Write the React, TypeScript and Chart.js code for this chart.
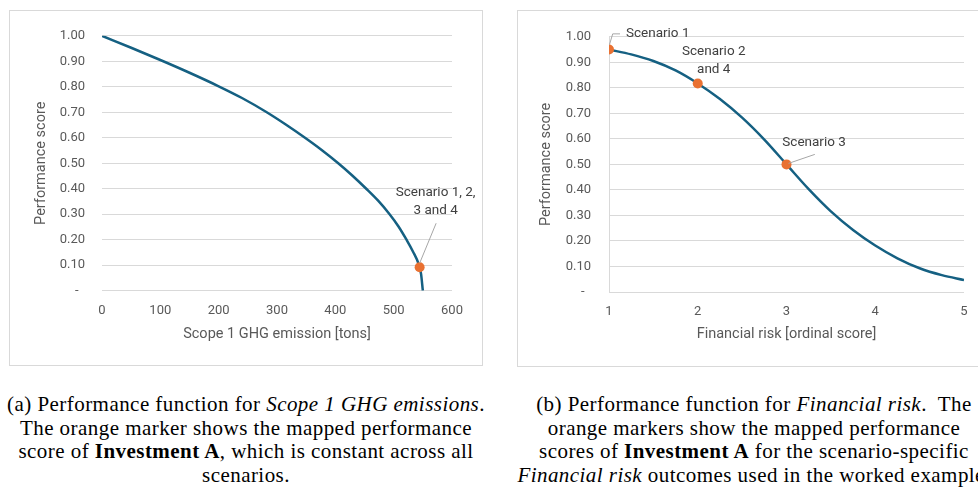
import React, { useEffect, useRef } from 'react';
import { Chart, registerables } from 'chart.js';

Chart.register(...registerables);

// ---- Data: panel (a) Scope 1 GHG emissions ----
const ghgX = [0, 50, 100, 150, 200, 240, 281, 315, 348, 376, 405, 429, 453, 473, 493, 508, 522, 533, 543.5, 547, 550];
const ghgY = [1.0, 0.953, 0.905, 0.855, 0.802, 0.756, 0.702, 0.652, 0.6, 0.553, 0.5, 0.452, 0.4, 0.354, 0.3, 0.253, 0.2, 0.154, 0.1, 0.065, 0.0];
const ghgMarkerX = [544.5];
const ghgMarkerY = [0.092];
const ghgMarkerLabels = [['Scenario 1, 2,', '3 and 4']];
const ghgXTicks = { min: 0, max: 600, step: 100 };

// ---- Data: panel (b) Financial risk ----
const riskX = [1, 1.25, 1.5, 1.75, 2, 2.25, 2.5, 2.75, 3, 3.25, 3.5, 3.75, 4, 4.25, 4.5, 4.75, 5];
const riskY = [0.95, 0.931, 0.905, 0.868, 0.817, 0.756, 0.683, 0.597, 0.5, 0.403, 0.316, 0.243, 0.182, 0.132, 0.093, 0.066, 0.047];
const riskMarkerX = [1, 2, 3];
const riskMarkerY = [0.95, 0.817, 0.5];
const riskMarkerLabels = [['Scenario 1'], ['Scenario 2', 'and 4'], ['Scenario 3']];
const riskXTicks = { min: 1, max: 5, step: 1 };

const yTicks = { min: 0, max: 1, step: 0.1 };

const LINE_COLOR = '#156082';
const MARKER_COLOR = '#E97132';
const GRID = '#d9d9d9';
const TICK_COLOR = '#595959';
const FONT = 'Roboto, "Noto Sans", sans-serif';

type LabelStyle = { dx: number; dy: number; leader?: number[][] };

type PanelProps = {
  width: number;
  height: number;
  xs: number[];
  ys: number[];
  mx: number[];
  my: number[];
  labels: string[][];
  labelStyles: LabelStyle[];
  xTicks: { min: number; max: number; step: number };
  xTitle: string;
  yAxisWidth: number;
  yTickPad: number;
  yTitlePad: number;
  padRight: number;
  padTop: number;
  xAxisHeight: number;
  xTitlePad: number;
  showYBorder: boolean;
};

function Panel(p: PanelProps) {
  const ref = useRef<HTMLCanvasElement | null>(null);
  useEffect(() => {
    if (!ref.current) return;
    const annot = {
      id: 'annot',
      afterDatasetsDraw(chart: any) {
        const ctx = chart.ctx;
        const xs = chart.scales.x;
        const ys = chart.scales.y;
        ctx.save();
        p.labels.forEach((lines, i) => {
          const px = xs.getPixelForValue(p.mx[i]);
          const py = ys.getPixelForValue(p.my[i]);
          const st = p.labelStyles[i];
          if (st.leader) {
            ctx.strokeStyle = '#a6a6a6';
            ctx.lineWidth = 1;
            ctx.beginPath();
            st.leader.forEach((pt, k) => {
              if (k === 0) ctx.moveTo(px + pt[0], py + pt[1]);
              else ctx.lineTo(px + pt[0], py + pt[1]);
            });
            ctx.stroke();
          }
          ctx.fillStyle = '#404040';
          ctx.font = `13.5px ${FONT}`;
          ctx.textAlign = 'center';
          ctx.textBaseline = 'middle';
          lines.forEach((t, k) => {
            ctx.fillText(t, px + st.dx, py + st.dy + k * 18);
          });
        });
        ctx.restore();
      },
    };
    const chart = new Chart(ref.current, {
      type: 'scatter',
      data: {
        datasets: [
          {
            data: p.mx.map((x, i) => ({ x, y: p.my[i] })),
            pointRadius: 5,
            pointBackgroundColor: MARKER_COLOR,
            pointBorderColor: MARKER_COLOR,
            pointBorderWidth: 0,
            showLine: false,
          },
          {
            data: p.xs.map((x, i) => ({ x, y: p.ys[i] })),
            showLine: true,
            pointRadius: 0,
            borderColor: LINE_COLOR,
            borderWidth: 2.5,
            cubicInterpolationMode: 'monotone',
            fill: false,
          },
        ],
      } as any,
      options: {
        animation: false,
        responsive: false,
        events: [],
        layout: { padding: { left: 0, top: p.padTop, right: p.padRight, bottom: 0 } },
        plugins: { legend: { display: false }, tooltip: { enabled: false }, title: { display: false } },
        scales: {
          x: {
            type: 'linear',
            min: p.xTicks.min,
            max: p.xTicks.max,
            afterFit: (s: any) => { s.height = p.xAxisHeight; },
            grid: { display: false, drawTicks: false },
            border: { display: false },
            ticks: {
              stepSize: p.xTicks.step,
              color: TICK_COLOR,
              font: { family: FONT, size: 13 },
              padding: 12,
              maxRotation: 0,
            },
            title: {
              display: true,
              text: p.xTitle,
              color: TICK_COLOR,
              font: { family: FONT, size: 14.5 },
              padding: { top: 0, bottom: p.xTitlePad },
            },
          },
          y: {
            type: 'linear',
            min: yTicks.min,
            max: yTicks.max,
            afterFit: (s: any) => { s.width = p.yAxisWidth; },
            grid: { color: GRID, lineWidth: 1, drawTicks: false },
            border: { display: p.showYBorder, color: GRID, width: 1 },
            ticks: {
              stepSize: yTicks.step,
              color: TICK_COLOR,
              font: { family: FONT, size: 13 },
              padding: p.yTickPad,
              callback: (v: any) => (Math.abs(Number(v)) < 1e-9 ? '-  ' : Number(v).toFixed(2)),
            },
            title: {
              display: true,
              text: 'Performance score',
              color: TICK_COLOR,
              font: { family: FONT, size: 14.5 },
              padding: { top: p.yTitlePad, bottom: 0 },
            },
          },
        },
      } as any,
      plugins: [annot],
    });
    return () => chart.destroy();
  }, []);
  return <canvas ref={ref} width={p.width} height={p.height} style={{ display: 'block', width: p.width, height: p.height }} />;
}

const capStyle: React.CSSProperties = {
  position: 'absolute',
  top: 393,
  textAlign: 'center',
  fontFamily: '"Liberation Serif", "Times New Roman", serif',
  fontSize: 21,
  lineHeight: '23.7px',
  letterSpacing: '0.45px',
  color: '#000',
  whiteSpace: 'nowrap',
};

export default function App() {
  return (
    <div style={{ position: 'absolute', left: 0, top: 0, width: 978, height: 489, overflow: 'hidden', background: '#fff' }}>
      <div style={{ position: 'absolute', left: 9, top: 10, width: 472, height: 354, border: `1px solid ${GRID}` }}>
        <Panel
          width={472}
          height={354}
          xs={ghgX}
          ys={ghgY}
          mx={ghgMarkerX}
          my={ghgMarkerY}
          labels={ghgMarkerLabels}
          labelStyles={[{ dx: 16, dy: -75, leader: [[0, -4], [16.5, -44]] }]}
          xTicks={ghgXTicks}
          xTitle="Scope 1 GHG emission [tons]"
          yAxisWidth={92}
          yTickPad={17}
          yTitlePad={22.3}
          padRight={30}
          padTop={17}
          xAxisHeight={74.3}
          xTitlePad={22.3}
          showYBorder={false}
        />
      </div>
      <div style={{ position: 'absolute', left: 517, top: 10, width: 473, height: 355, border: `1px solid ${GRID}` }}>
        <Panel
          width={473}
          height={355}
          xs={riskX}
          ys={riskY}
          mx={riskMarkerX}
          my={riskMarkerY}
          labels={riskMarkerLabels}
          labelStyles={[
            { dx: 48.7, dy: -15.7, leader: [[0.5, -5], [3.7, -15.7], [11, -15.7]] },
            { dx: 16, dy: -31.6 },
            { dx: 27.6, dy: -21.7, leader: [[2, -1], [28.3, -10]] },
          ]}
          xTicks={riskXTicks}
          xTitle="Financial risk [ordinal score]"
          yAxisWidth={91}
          yTickPad={18}
          yTitlePad={20}
          padRight={27}
          padTop={17}
          xAxisHeight={74}
          xTitlePad={23.3}
          showYBorder={true}
        />
      </div>
      <div style={{ ...capStyle, left: 0, width: 492 }}>
        (a) Performance function for <i>Scope 1 GHG emissions</i>.<br />
        The orange marker shows the mapped performance<br />
        score of <b>Investment A</b>, which is constant across all<br />
        scenarios.
      </div>
      <div style={{ ...capStyle, left: 514, width: 480 }}>
        (b) Performance function for <i>Financial risk</i>.&nbsp; The<br />
        orange markers show the mapped performance<br />
        scores of <b>Investment A</b> for the scenario-specific<br />
        <i>Financial risk</i> outcomes used in the worked example.
      </div>
    </div>
  );
}
